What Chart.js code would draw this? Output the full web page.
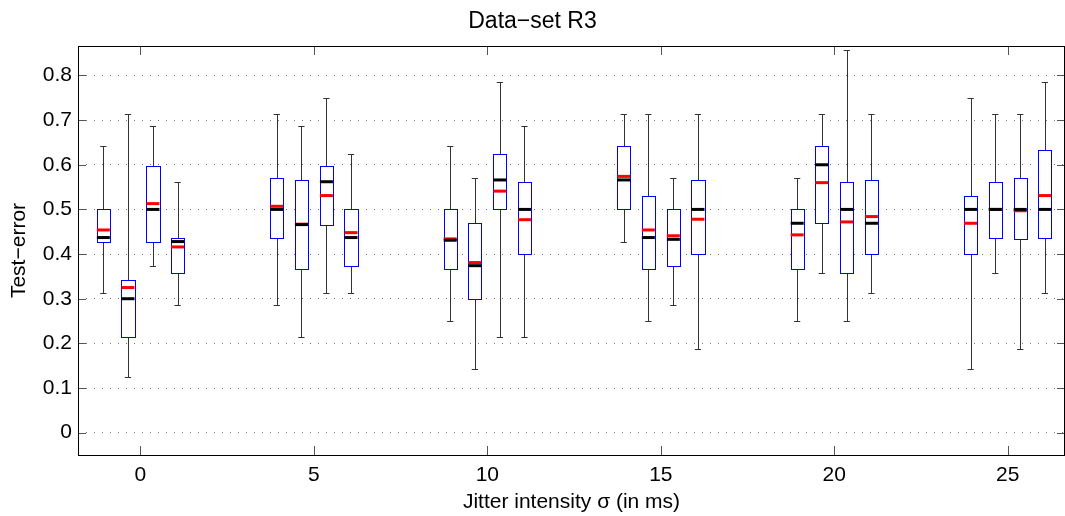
<!DOCTYPE html>
<html lang="en">
  <head>
    <meta charset="UTF-8" />
    <title>Data-set R3</title>
    <script src="https://cdn.jsdelivr.net/npm/chart.js"></script>
    <style>
      html, body { margin: 0; padding: 0; background: #fff; overflow: hidden; }
      #wrap { width: 1065px; height: 516px; }
      canvas { display: block; }
    </style>
  </head>
  <body>
    <div id="wrap"><canvas id="chart"></canvas></div>
    <script>
      // jitter levels and the 4 boxes drawn around each one
      const groups = [0, 5, 10, 15, 20, 25];
      const offsets = [-1.07, -0.36, 0.36, 1.07];
      const xTicks = [0, 5, 10, 15, 20, 25];
      const yTicks = [0, 0.1, 0.2, 0.3, 0.4, 0.5, 0.6, 0.7, 0.8];

      // box statistics, 4 per group, in group order
      const whiskerHigh = [0.642, 0.713, 0.686, 0.562, 0.713, 0.686, 0.749, 0.624, 0.642, 0.571, 0.785, 0.686,
        0.713, 0.713, 0.571, 0.713, 0.571, 0.713, 0.857, 0.713, 0.749, 0.713, 0.713, 0.785];
      const q3 = [0.500, 0.343, 0.598, 0.437, 0.571, 0.566, 0.598, 0.500, 0.500, 0.469, 0.625, 0.562,
        0.642, 0.530, 0.500, 0.566, 0.500, 0.642, 0.562, 0.566, 0.530, 0.562, 0.571, 0.634];
      const medians = [0.437, 0.300, 0.500, 0.428, 0.500, 0.466, 0.562, 0.437, 0.431, 0.374, 0.566, 0.500,
        0.566, 0.437, 0.433, 0.500, 0.469, 0.600, 0.500, 0.469, 0.500, 0.500, 0.500, 0.500];
      const means = [0.454, 0.325, 0.513, 0.416, 0.507, 0.467, 0.531, 0.448, 0.434, 0.381, 0.541, 0.477,
        0.574, 0.454, 0.441, 0.478, 0.443, 0.560, 0.472, 0.484, 0.469, 0.500, 0.497, 0.531];
      const q1 = [0.428, 0.214, 0.428, 0.357, 0.437, 0.366, 0.464, 0.374, 0.366, 0.299, 0.500, 0.401,
        0.500, 0.366, 0.374, 0.401, 0.366, 0.469, 0.357, 0.401, 0.401, 0.437, 0.433, 0.437];
      const whiskerLow = [0.312, 0.125, 0.374, 0.285, 0.285, 0.214, 0.312, 0.312, 0.249, 0.143, 0.214, 0.214,
        0.428, 0.249, 0.285, 0.187, 0.249, 0.357, 0.249, 0.312, 0.143, 0.357, 0.187, 0.312];

      const positions = groups.flatMap((g) => offsets.map((o) => g + o));
      const boxHalf = 0.19;
      const capHalf = 0.09;

      const crisp = (v) => Math.round(v) + 0.5;

      const boxPlugin = {
        id: "boxes",
        beforeDatasetsDraw(chart) {
          const { ctx } = chart;
          const x = chart.scales.x;
          const y = chart.scales.y;
          ctx.save();
          positions.forEach((p, i) => {
            const xc = crisp(x.getPixelForValue(p));
            const xl = crisp(x.getPixelForValue(p - boxHalf));
            const xr = crisp(x.getPixelForValue(p + boxHalf));
            const cl = x.getPixelForValue(p - capHalf);
            const cr = x.getPixelForValue(p + capHalf);
            const yHi = crisp(y.getPixelForValue(whiskerHigh[i]));
            const yLo = crisp(y.getPixelForValue(whiskerLow[i]));
            const yQ3 = crisp(y.getPixelForValue(q3[i]));
            const yQ1 = crisp(y.getPixelForValue(q1[i]));
            // whiskers
            ctx.strokeStyle = "#333";
            ctx.lineWidth = 1;
            ctx.beginPath();
            ctx.moveTo(xc, yHi);
            ctx.lineTo(xc, yQ3);
            ctx.moveTo(xc, yQ1);
            ctx.lineTo(xc, yLo);
            ctx.moveTo(cl, yHi);
            ctx.lineTo(cr, yHi);
            ctx.moveTo(cl, yLo);
            ctx.lineTo(cr, yLo);
            ctx.stroke();
            // box
            ctx.fillStyle = "#fff";
            ctx.fillRect(xl, yQ3, xr - xl, yQ1 - yQ3);
            ctx.strokeStyle = "#0000ff";
            ctx.strokeRect(xl, yQ3, xr - xl, yQ1 - yQ3);
          });
          ctx.restore();
        },
        afterDraw(chart) {
          const { ctx, chartArea: a } = chart;
          const x = chart.scales.x;
          const y = chart.scales.y;
          ctx.save();
          ctx.strokeStyle = "#555";
          ctx.lineWidth = 1;
          ctx.beginPath();
          xTicks.forEach((v) => {
            const px = crisp(x.getPixelForValue(v));
            ctx.moveTo(px, a.bottom);
            ctx.lineTo(px, a.bottom - 9);
            ctx.moveTo(px, a.top);
            ctx.lineTo(px, a.top + 9);
          });
          yTicks.forEach((v) => {
            const py = crisp(y.getPixelForValue(v));
            ctx.moveTo(a.left, py);
            ctx.lineTo(a.left + 8, py);
            ctx.moveTo(a.right, py);
            ctx.lineTo(a.right - 8, py);
          });
          ctx.stroke();
          ctx.strokeStyle = "#000";
          ctx.strokeRect(crisp(a.left), crisp(a.top), Math.round(a.right - a.left) - 1, Math.round(a.bottom - a.top));
          ctx.restore();
        },
      };

      Chart.defaults.font.family = "'Liberation Sans', Arial, sans-serif";
      Chart.defaults.color = "#000";

      const fontSize = 21;

      new Chart(document.getElementById("chart"), {
        type: "scatter",
        data: {
          datasets: [
            {
              label: "median",
              data: positions.map((p, i) => ({ x: p, y: medians[i] })),
              pointStyle: "line",
              pointRadius: 6.5,
              pointBorderWidth: 3,
              borderColor: "#000",
              backgroundColor: "#000",
            },
            {
              label: "mean",
              data: positions.map((p, i) => ({ x: p, y: means[i] })),
              pointStyle: "line",
              pointRadius: 6.5,
              pointBorderWidth: 3,
              borderColor: "#ff0000",
              backgroundColor: "#ff0000",
            },
          ],
        },
        options: {
          responsive: true,
          maintainAspectRatio: false,
          animation: false,
          layout: { autoPadding: false, padding: { left: 0, right: 0, top: 0, bottom: 0 } },
          plugins: {
            legend: { display: false },
            tooltip: { enabled: false },
            title: {
              display: true,
              text: "Data\u2212set R3",
              font: { size: 23, weight: "normal" },
              padding: { top: 8, bottom: 10.4 },
            },
          },
          scales: {
            x: {
              type: "linear",
              min: -1.8,
              max: 26.65,
              afterBuildTicks: (s) => { s.ticks = xTicks.map((v) => ({ value: v })); },
              afterFit: (s) => { s.height = 61; },
              grid: { display: false, drawTicks: false },
              border: { display: false },
              ticks: { font: { size: fontSize }, padding: 8, maxRotation: 0 },
              title: {
                display: true,
                text: "Jitter intensity \u03c3 (in ms)",
                font: { size: fontSize },
                padding: { top: 0, bottom: 1 },
              },
            },
            y: {
              min: -0.05,
              max: 0.866,
              afterBuildTicks: (s) => { s.ticks = yTicks.map((v) => ({ value: v })); },
              afterFit: (s) => { s.width = 78; },
              grid: { color: "#777", lineWidth: 1, drawTicks: false },
              border: { display: false, dash: [1, 7] },
              ticks: {
                font: { size: fontSize },
                padding: 6,
                callback: (v) => (v === 0 ? "0" : v.toFixed(1)),
              },
              title: {
                display: true,
                text: "Test\u2212error",
                font: { size: fontSize },
                padding: { top: 7, bottom: 0 },
              },
            },
          },
        },
        plugins: [boxPlugin],
      });
    </script>
  </body>
</html>
